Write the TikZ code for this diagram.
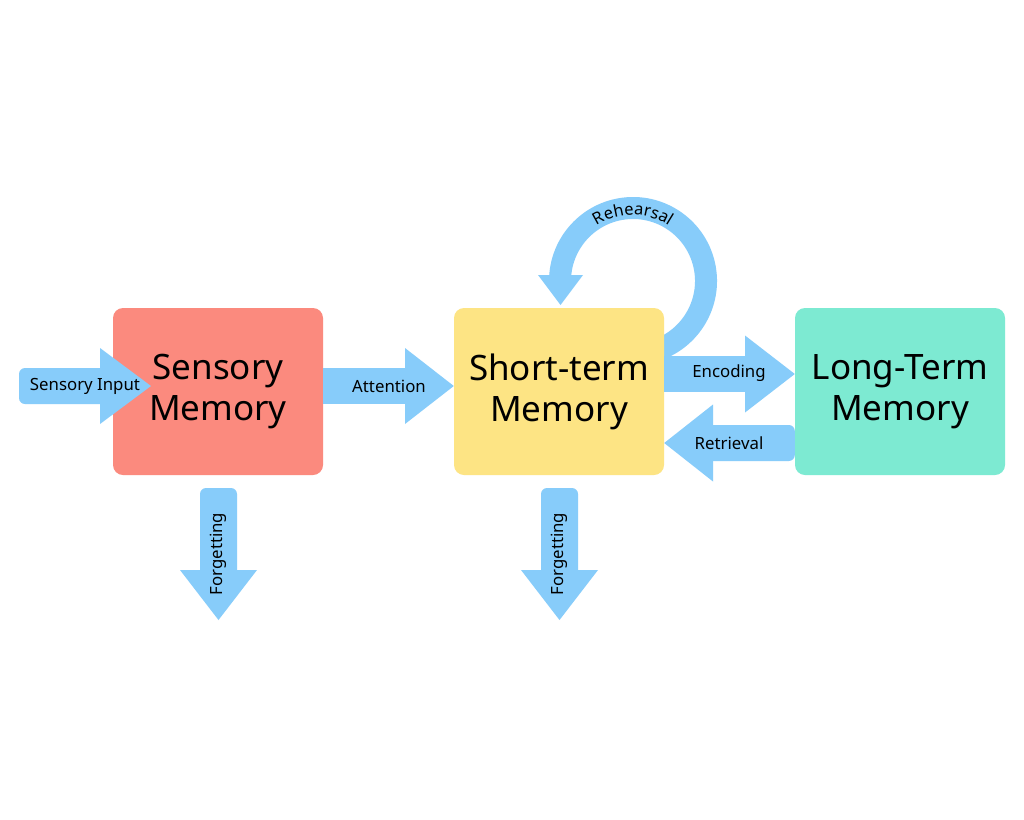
\documentclass[tikz,border=0pt]{standalone}
\usepackage{fontspec}
\setmainfont{Noto Sans}
\usetikzlibrary{decorations.text}
\definecolor{arrowblue}{RGB}{135,204,250}
\definecolor{salmon}{RGB}{251,138,126}
\definecolor{butter}{RGB}{253,228,132}
\definecolor{mint}{RGB}{125,234,210}
\tikzset{
  memblock/.style={rounded corners=10pt, minimum width=210pt, minimum height=167pt,
    inner sep=0pt, align=center, font=\fontsize{35}{41}\selectfont},
  lbl/.style={inner sep=0pt, font=\fontsize{16.8}{19}\selectfont},
  shaft/.style={fill=arrowblue, rounded corners=6pt},
  head/.style={fill=arrowblue}
}
\begin{document}
\begin{tikzpicture}[x=1pt,y=1pt]
\useasboundingbox (0,0) rectangle (1024,-819);
\fill[white] (0,0) rectangle (1024,-819);

% rehearsal loop (behind the short-term box)
\coordinate (rc) at (633,-281);
\draw[arrowblue, line width=22pt] (rc) ++(-80:73) arc[start angle=-80, end angle=180, radius=73];
\fill[arrowblue] (rc) ++(-95,6) -- ++(45,0) -- ++(-22.5,-30) -- cycle;
\path[decorate, decoration={text along path, text align=center,
  text={|\fontsize{16.5}{19}\selectfont|Rehearsal}}]
  (rc) ++(150:66) arc[start angle=150, end angle=30, radius=66];

% memory boxes
\node[memblock, fill=salmon] (sm) at (218,-391.5) {Sensory\\Memory};
\node[memblock, fill=butter] (stm) at (559,-391.5) {Short-term\\Memory};
\node[memblock, fill=mint] (ltm) at (900,-391.5) {Long-Term\\Memory};

% sensory input
\fill[shaft] (19,-368) rectangle (110,-404);
\fill[head] (100,-348) -- (151,-386) -- (100,-424) -- cycle;
\node[lbl] (lin) at (85,-386) {Sensory Input};

% attention
\fill[shaft, sharp corners] (sm.east |- 0,-368) rectangle (410,-404);
\fill[head] (405,-348) -- (stm.west |- 0,-386) -- (405,-424) -- cycle;
\node[lbl] (latt) at (389,-386) {Attention};

% encoding
\fill[shaft, sharp corners] (stm.east |- 0,-356) rectangle (750,-392);
\fill[head] (745,-335.5) -- (ltm.west |- 0,-374) -- (745,-412.5) -- cycle;
\node[lbl] (lenc) at (729,-373) {Encoding};

% retrieval
\fill[shaft] (705,-425) rectangle (ltm.west |- 0,-461);
\fill[head] (713,-404.5) -- (stm.east |- 0,-443) -- (713,-481.5) -- cycle;
\node[lbl] (lret) at (729,-443) {Retrieval};

% forgetting (sensory)
\fill[shaft] (200,-488) rectangle (237,-578);
\fill[head] (180,-570) -- (257,-570) -- (218.5,-620) -- cycle;
\node[lbl, rotate=90] (lf1) at (218,-554) {Forgetting};

% forgetting (short-term)
\fill[shaft] (541,-488) rectangle (578,-578);
\fill[head] (521,-570) -- (598,-570) -- (559.5,-620) -- cycle;
\node[lbl, rotate=90] (lf2) at (559,-554) {Forgetting};
\end{tikzpicture}
\end{document}
